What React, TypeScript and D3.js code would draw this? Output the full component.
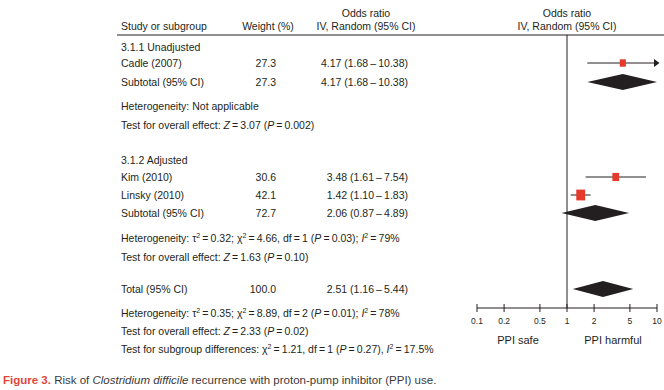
import React from "react";
import * as d3 from "d3";

const studyLabels = ["Cadle (2007)", "Kim (2010)", "Linsky (2010)"];
const studyWeights = [27.3, 30.6, 42.1];
const studyOR = [4.17, 3.48, 1.42];
const studyLo = [1.68, 1.61, 1.1];
const studyHi = [10.38, 7.54, 1.83];

const summaryLabels = ["Subtotal (95% CI)", "Subtotal (95% CI)", "Total (95% CI)"];
const summaryWeights = [27.3, 72.7, 100.0];
const summaryOR = [4.17, 2.06, 2.51];
const summaryLo = [1.68, 0.87, 1.16];
const summaryHi = [10.38, 4.89, 5.44];

const subgroupTitles = ["3.1.1 Unadjusted", "3.1.2 Adjusted"];
const axisTicks = [0.1, 0.2, 0.5, 1, 2, 5, 10];
const axisTickLabels = ["0.1", "0.2", "0.5", "1", "2", "5", "10"];

// layout (baselines)
const studyRowY = [67, 181, 199];
const summaryRowY = [86, 217, 293];
const subgroupRowY = [51, 164];

const FONT = "'Liberation Sans', Arial, Helvetica, sans-serif";
const TXT = "#231f20";
const RED = "#e5392b";
const TS = "\u2009";

const fmt = (v: number, lo: number, hi: number) =>
  `${v.toFixed(2)} (${lo.toFixed(2)}${TS}–${TS}${hi.toFixed(2)})`;

const Sup = ({ children }: { children: React.ReactNode }) => (
  <tspan dy={-4} fontSize="7">
    {children}
  </tspan>
);
const Down = () => <tspan dy={4}>{""}</tspan>;
const It = ({ children }: { children: React.ReactNode }) => (
  <tspan fontStyle="italic">{children}</tspan>
);
const eq = `${TS}=${TS}`;

export default function App() {
  const x = d3.scaleLog().domain([0.1, 10]).range([477, 657]);
  const sqH = d3.scaleLinear().domain([27.3, 42.1]).range([7.4, 10.8]);
  const colStudy = 121;
  const colWeight = 276;
  const colOR = 408;
  const axisY = 308;
  const fs = 10.5;

  return (
    <svg
      width={664}
      height={390}
      style={{ position: "absolute", left: 0, top: 0, background: "#fff" }}
      fontFamily={FONT}
      fontSize={fs}
      fill={TXT}
    >
      {/* Headers */}
      <text x={colStudy} y={30}>Study or subgroup</text>
      <text x={268} y={30} textAnchor="middle">Weight (%)</text>
      <text x={366} y={17} textAnchor="middle">Odds ratio</text>
      <text x={366} y={30} textAnchor="middle">IV, Random (95% CI)</text>
      <text x={x(1)} y={17} textAnchor="middle">Odds ratio</text>
      <text x={x(1)} y={30} textAnchor="middle">IV, Random (95% CI)</text>
      <line x1={117} x2={664} y1={35} y2={35} stroke={TXT} strokeWidth={1} />

      {/* subgroup titles */}
      {subgroupTitles.map((t, i) => (
        <text key={t} x={colStudy} y={subgroupRowY[i]}>{t}</text>
      ))}

      {/* study rows */}
      {studyLabels.map((s, i) => (
        <g key={s}>
          <text x={colStudy} y={studyRowY[i]}>{s}</text>
          <text x={colWeight} y={studyRowY[i]} textAnchor="end">{studyWeights[i].toFixed(1)}</text>
          <text x={colOR} y={studyRowY[i]} textAnchor="end">{fmt(studyOR[i], studyLo[i], studyHi[i])}</text>
        </g>
      ))}

      {/* summary rows */}
      {summaryLabels.map((s, i) => (
        <g key={i}>
          <text x={colStudy} y={summaryRowY[i]}>{s}</text>
          <text x={colWeight} y={summaryRowY[i]} textAnchor="end">{summaryWeights[i].toFixed(1)}</text>
          <text x={colOR} y={summaryRowY[i]} textAnchor="end">{fmt(summaryOR[i], summaryLo[i], summaryHi[i])}</text>
        </g>
      ))}

      {/* statistics text */}
      <text x={colStudy} y={110}>Heterogeneity: Not applicable</text>
      <text x={colStudy} y={129}>
        Test for overall effect: <It>Z</It>{eq}3.07 (<It>P</It>{eq}0.002)
      </text>
      <text x={colStudy} y={242}>
        Heterogeneity: τ<Sup>2</Sup><tspan dy={4}>{eq}0.32; χ</tspan><Sup>2</Sup><tspan dy={4}>{eq}4.66, df{eq}1 (</tspan><It>P</It>{eq}0.03); <It>I</It><Sup>2</Sup><tspan dy={4}>{eq}79%</tspan>
      </text>
      <text x={colStudy} y={261}>
        Test for overall effect: <It>Z</It>{eq}1.63 (<It>P</It>{eq}0.10)
      </text>
      <text x={colStudy} y={317}>
        Heterogeneity: τ<Sup>2</Sup><tspan dy={4}>{eq}0.35; χ</tspan><Sup>2</Sup><tspan dy={4}>{eq}8.89, df{eq}2 (</tspan><It>P</It>{eq}0.01); <It>I</It><Sup>2</Sup><tspan dy={4}>{eq}78%</tspan>
      </text>
      <text x={colStudy} y={335}>
        Test for overall effect: <It>Z</It>{eq}2.33 (<It>P</It>{eq}0.02)
      </text>
      <text x={colStudy} y={353}>
        Test for subgroup differences: χ<Sup>2</Sup><tspan dy={4}>{eq}1.21, df{eq}1 (</tspan><It>P</It>{eq}0.27), <It>I</It><Sup>2</Sup><tspan dy={4}>{eq}17.5%</tspan>
      </text>

      {/* reference line */}
      <line x1={x(1)} x2={x(1)} y1={35} y2={axisY} stroke={TXT} strokeWidth={1} />

      {/* study CIs and squares */}
      {studyLabels.map((s, i) => {
        const y = studyRowY[i] - 4;
        const hiClip = Math.min(studyHi[i], 10);
        const h = sqH(studyWeights[i]);
        const w = h * 0.82;
        return (
          <g key={s}>
            <line x1={x(studyLo[i])} x2={x(hiClip)} y1={y} y2={y} stroke={TXT} strokeWidth={1} />
            {studyHi[i] > 10 && (
              <path
                d={`M${x(10) - 3},${y - 4} L${x(10) + 2.5},${y} L${x(10) - 3},${y + 4} Z`}
                fill={TXT}
              />
            )}
            <rect x={x(studyOR[i]) - w / 2} y={y - h / 2} width={w} height={h} fill={RED} />
          </g>
        );
      })}

      {/* diamonds */}
      {summaryLabels.map((s, i) => {
        const y = summaryRowY[i] - 4;
        const hiClip = Math.min(summaryHi[i], 10);
        return (
          <path
            key={i}
            d={`M${x(summaryLo[i])},${y} L${x(summaryOR[i])},${y - 8} L${x(hiClip)},${y} L${x(summaryOR[i])},${y + 8} Z`}
            fill={TXT}
          />
        );
      })}

      {/* axis */}
      <line x1={x(0.1)} x2={x(10)} y1={axisY} y2={axisY} stroke={TXT} strokeWidth={1} />
      {axisTicks.map((t, i) => (
        <g key={t}>
          <line x1={x(t)} x2={x(t)} y1={axisY - 4} y2={axisY + 4} stroke={TXT} strokeWidth={1} />
          <text x={x(t)} y={axisY + 16} textAnchor="middle" fontSize={8.5}>{axisTickLabels[i]}</text>
        </g>
      ))}
      <text x={518} y={344} textAnchor="middle" fontSize={11}>PPI safe</text>
      <text x={613} y={344} textAnchor="middle" fontSize={11}>PPI harmful</text>

      {/* caption */}
      <text x={3} y={384} fontSize={11.5} fill="#3a3a3a">
        <tspan fill="#e0463a" fontWeight="bold">Figure 3.</tspan> Risk of{" "}
        <tspan fontStyle="italic">Clostridium difficile</tspan> recurrence with proton-pump inhibitor (PPI) use.
      </text>
    </svg>
  );
}
